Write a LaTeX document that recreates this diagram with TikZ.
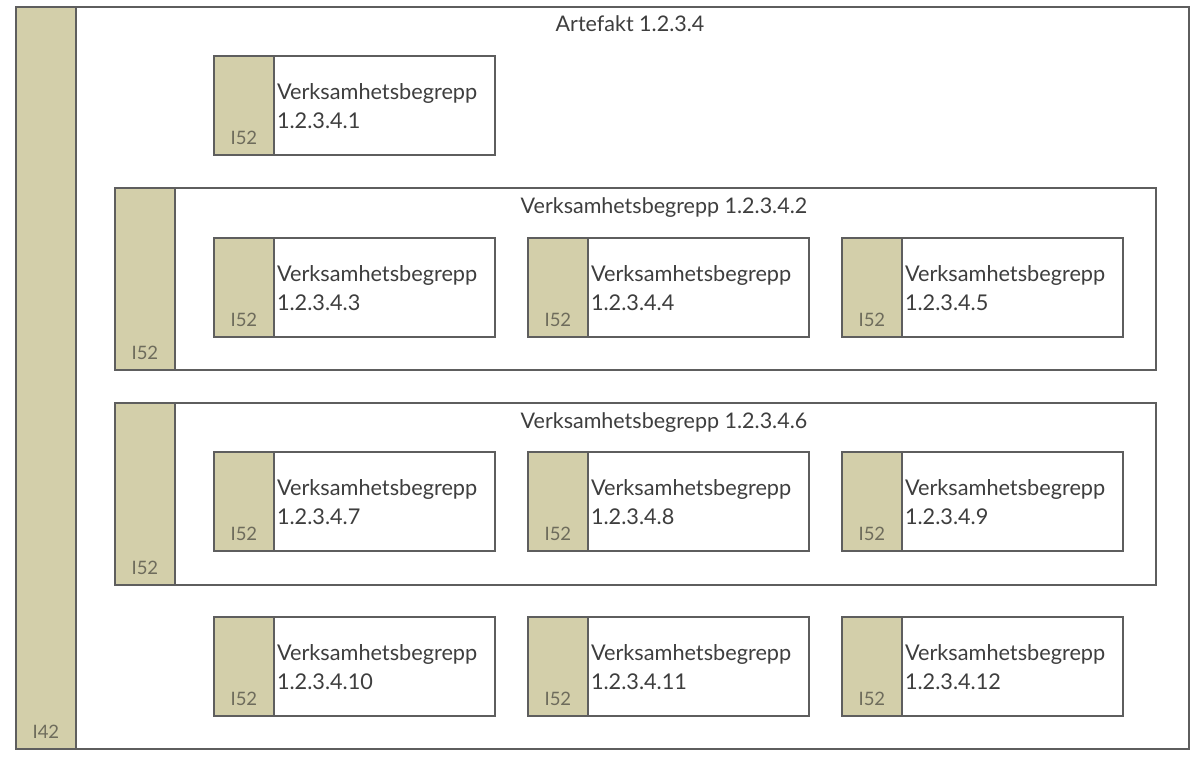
\documentclass[tikz,border=0pt]{standalone}
\usepackage{fontspec}
\setmainfont{Lato}
\usetikzlibrary{positioning}
\definecolor{linjegra}{HTML}{5E5E5E}
\definecolor{oliv}{HTML}{D3CFAA}
\definecolor{textgra}{HTML}{3E3E3E}
\definecolor{etikettgra}{HTML}{6E6C5C}
\begin{document}
\begin{tikzpicture}[
        x=1pt, y=-1pt,
        ram/.style={rectangle, draw=linjegra, line width=1.8pt, fill=white, inner sep=0pt, anchor=north west},
        band/.style={ram, fill=oliv, minimum width=60pt},
        etikett/.style={font=\fontsize{18.5}{22}\selectfont, text=etikettgra, inner sep=0pt, anchor=base},
        namn/.style={font=\fontsize{21.7}{29}\selectfont, text=textgra, align=left, inner sep=0pt, anchor=base west},
        rubrik/.style={font=\fontsize{21.5}{29}\selectfont, text=textgra, inner sep=0pt, anchor=base}
    ]
        \useasboundingbox[fill=white] (0,0) rectangle (1200,761);

        % artefakt
        \node[ram, minimum width=1173pt, minimum height=742pt] (artefakt) at (15,6) {};
        \node[band, minimum height=742pt] (artefaktband) at (15,6) {};
        \node[etikett] (artefakttyp) at ([yshift=11pt]artefaktband.south) {I42};
        \node[rubrik] (artefakttitel) at (630,31) {Artefakt 1.2.3.4};

        % grupperande begrepp
        \foreach \y/\n in {187/2, 402/6} {
            \node[ram, minimum width=1041pt, minimum height=182pt] (g\n) at (114,\y) {};
            \node[band, minimum height=182pt] (g\n band) at (114,\y) {};
            \node[etikett] (g\n typ) at ([yshift=11pt]g\n band.south) {I52};
            \node[rubrik] (g\n titel) at ([yshift=-26pt]664,\y) {Verksamhetsbegrepp 1.2.3.4.\n};
        }

        % enskilda begrepp
        \foreach \x/\y/\n in {213/55/1,
                              213/237/3, 527/237/4, 841/237/5,
                              213/451/7, 527/451/8, 841/451/9,
                              213/616/10, 527/616/11, 841/616/12} {
            \node[ram, minimum width=281pt, minimum height=99pt] (b\n) at (\x,\y) {};
            \node[band, minimum height=99pt] (b\n band) at (\x,\y) {};
            \node[etikett] (b\n typ) at ([yshift=11pt]b\n band.south) {I52};
            \node[namn] (b\n namn) at ([xshift=2pt, yshift=-73pt]b\n band.north east) {Verksamhetsbegrepp\\1.2.3.4.\n};
        }
    \end{tikzpicture}
\end{document}
